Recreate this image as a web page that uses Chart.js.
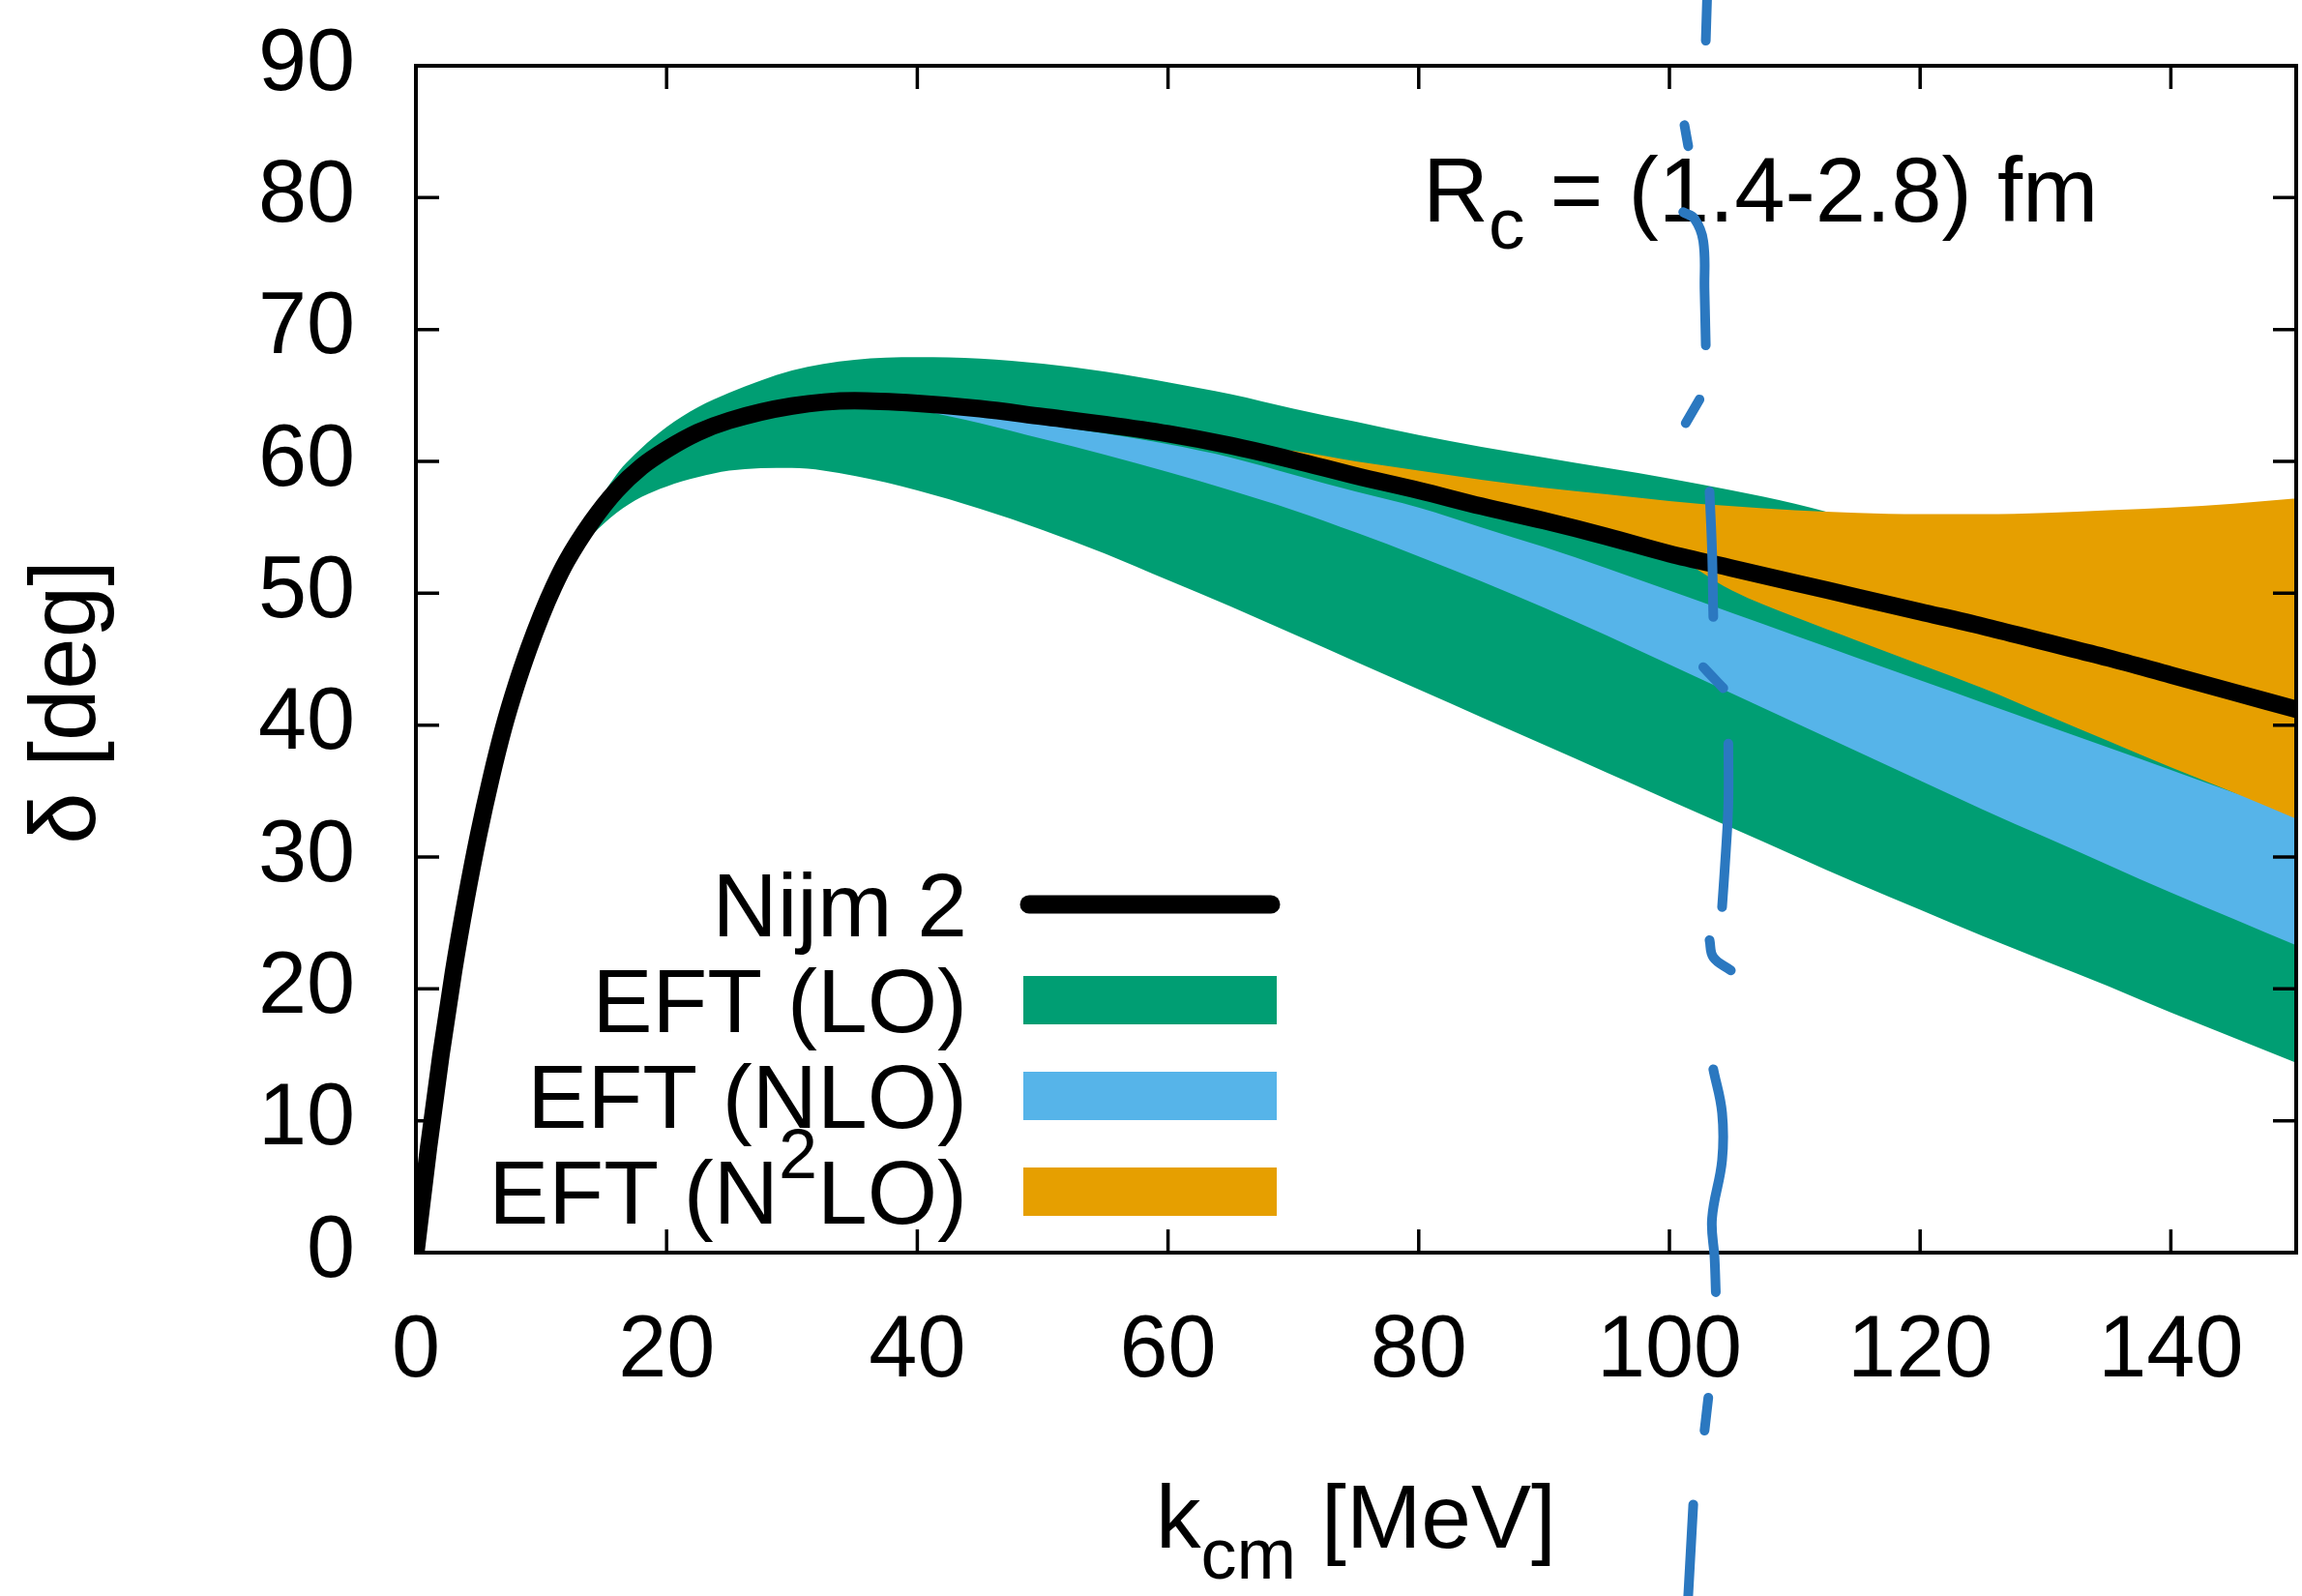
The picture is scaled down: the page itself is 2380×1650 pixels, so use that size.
<!DOCTYPE html>
<html>
<head>
<meta charset="utf-8">
<title>Phase shifts</title>
<script src="https://cdn.jsdelivr.net/npm/chart.js@4/dist/chart.umd.min.js"></script>
<style>
  html, body { margin: 0; padding: 0; background: #fff; }
  canvas { display: block; }
</style>
</head>
<body>
<canvas id="phase" width="2380" height="1650" style="width:2380px;height:1650px"></canvas>
<script>
// momentum grid, k_cm in MeV
const K = [0, 1, 2, 3, 4, 5, 6, 7, 8, 9, 10, 11, 12, 14, 16, 18, 20, 22.5, 25,
  30, 35, 40, 45, 50, 55, 60, 65, 70, 75, 80, 85, 90, 95, 100, 105, 110, 115, 120, 125, 130, 135, 140, 145, 150];

// Nijm 2 phase shift [deg]
const NIJM = [0, 7.9, 15.0, 21.3, 26.8, 31.7, 36.0, 39.8, 43.0, 45.8, 48.3, 50.5, 52.4, 55.4, 57.8, 59.6, 60.9, 62.2, 63.1,
  64.2, 64.6, 64.4, 64.0, 63.4, 62.8, 62.1, 61.2, 60.1, 58.9, 57.8, 56.6, 55.5, 54.3, 53.0, 51.9, 50.8, 49.7, 48.6, 47.5, 46.3, 45.1, 43.8, 42.5, 41.2];

// EFT bands (upper / lower edge) for R_c = 1.4 - 2.8 fm
const LO_HI = [0, 7.9, 15.0, 21.3, 26.8, 31.7, 36.0, 39.8, 43.0, 45.8, 48.3, 50.5, 52.4, 56.0, 59.0, 61.0, 62.6, 64.1, 65.2,
  66.9, 67.7, 67.9, 67.8, 67.4, 66.8, 66.0, 65.1, 64.0, 63.0, 62.0, 61.1, 60.3, 59.5, 58.7, 57.8, 56.8, 55.6, 54.6, 53.6, 52.4, 51.0, 49.6, 48.0, 46.5];
const LO_LO = [0, 7.9, 15.0, 21.3, 26.8, 31.7, 36.0, 39.8, 43.0, 45.8, 48.3, 50.5, 52.4, 54.4, 56.1, 57.3, 58.1, 58.8, 59.3,
  59.5, 58.9, 57.8, 56.4, 54.8, 53.0, 51.0, 49.0, 46.9, 44.8, 42.7, 40.6, 38.5, 36.4, 34.3, 32.2, 30.1, 28.0, 26.0, 24.0, 22.1, 20.2, 18.2, 16.3, 14.4];

const NLO_HI = [0, 7.9, 15.0, 21.3, 26.8, 31.7, 36.0, 39.8, 43.0, 45.8, 48.3, 50.5, 52.4, 55.4, 57.8, 59.6, 60.9, 62.2, 63.1,
  64.2, 64.6, 64.2, 63.6, 62.8, 62.1, 61.3, 60.3, 59.0, 57.7, 56.5, 55.0, 53.5, 51.9, 50.2, 48.5, 46.8, 45.1, 43.4, 41.7, 40.0, 38.3, 36.6, 34.9, 33.3];
const NLO_LO = [0, 7.9, 15.0, 21.3, 26.8, 31.7, 36.0, 39.8, 43.0, 45.8, 48.3, 50.5, 52.4, 55.4, 57.8, 59.6, 60.9, 62.2, 63.1,
  64.2, 64.6, 63.9, 62.9, 61.7, 60.5, 59.2, 57.8, 56.3, 54.6, 52.8, 50.9, 48.9, 46.8, 44.6, 42.4, 40.2, 38.0, 35.8, 33.6, 31.5, 29.4, 27.3, 25.3, 23.3];

const N2LO_HI = [0, 7.9, 15.0, 21.3, 26.8, 31.7, 36.0, 39.8, 43.0, 45.8, 48.3, 50.5, 52.4, 55.4, 57.8, 59.6, 60.9, 62.2, 63.1,
  64.2, 64.6, 64.4, 64.0, 63.4, 62.8, 62.1, 61.2, 60.8, 60.0, 59.3, 58.6, 58.0, 57.5, 57.0, 56.6, 56.3, 56.1, 56.0, 56.0, 56.1, 56.3, 56.5, 56.8, 57.2];
const N2LO_LO = [0, 7.9, 15.0, 21.3, 26.8, 31.7, 36.0, 39.8, 43.0, 45.8, 48.3, 50.5, 52.4, 55.4, 57.8, 59.6, 60.9, 62.2, 63.1,
  64.2, 64.6, 64.4, 64.0, 63.4, 62.8, 62.1, 61.2, 60.1, 58.9, 57.8, 56.6, 55.5, 54.3, 53.0, 50.2, 48.2, 46.4, 44.6, 42.8, 40.8, 38.8, 36.8, 34.9, 32.9];

// hand-drawn pen stroke (k, delta); null in MARK_D breaks the stroke
const MARK_K = [103.0, 102.9, 102.9, 101.2, 101.5, 101.5, 101.1, 102.0, 102.7, 102.8, 102.9, 102.9,
  102.4, 101.3, 101.3, 103.2, 103.4, 103.5, 103.5, 102.7, 103.4, 104.3, 104.3,
  104.7, 104.7, 104.5, 104.2, 104.2, 103.2, 103.5, 104.9, 104.9,
  103.5, 104.2, 104.2, 103.4, 103.6, 103.7, 103.7, 103.1, 102.8, 102.8, 101.9, 101.5];
const MARK_D = [95.0, 91.9, null, 85.5, 83.9, null, 78.9, 78.4, 76.7, 73.0, 68.8, null,
  64.7, 62.9, null, 57.7, 53.2, 48.2, null, 44.4, 43.7, 42.8, null,
  38.6, 34.1, 30.4, 26.2, null, 23.7, 22.4, 21.4, null,
  13.9, 10.6, 7.0, 2.6, -0.4, -3.0, null, -11.0, -13.5, null, -19.1, -26.0];

const X_TICKS = { min: 0, max: 150, step: 20 };
const Y_TICKS = { min: 0, max: 90, step: 10 };

const GREEN = '#009e73';
const SKY = '#56b4e9';
const ORANGE = '#e69f00';
const PEN = '#2b78c0';

const FAMILY = '"Liberation Sans", Arial, Helvetica, sans-serif';

const pts = (xs, ys) => xs.map((x, i) => ({ x: x, y: ys[i] }));

function band(lo, hi, color, order, lowIndex) {
  return [
    { data: pts(K, lo), borderWidth: 0, pointRadius: 0, fill: false, order: order, cubicInterpolationMode: 'monotone' },
    { data: pts(K, hi), borderWidth: 0, pointRadius: 0, backgroundColor: color,
      fill: { target: lowIndex }, order: order, cubicInterpolationMode: 'monotone' }
  ];
}

const MARK_INDEX = 1;

const datasets = [
  { label: 'Nijm 2', data: pts(K, NIJM), borderColor: '#000', borderWidth: 18, pointRadius: 0,
    borderCapStyle: 'round', fill: false, order: 0, cubicInterpolationMode: 'monotone' },
  { data: pts(MARK_K, MARK_D), borderColor: PEN, borderWidth: 10, pointRadius: 0, borderCapStyle: 'round',
    borderJoinStyle: 'round', tension: 0.4, fill: false, clip: false, spanGaps: false, order: -1 },
  ...band(N2LO_LO, N2LO_HI, ORANGE, 1, 2),
  ...band(NLO_LO, NLO_HI, SKY, 2, 4),
  ...band(LO_LO, LO_HI, GREEN, 3, 6)
];

// pieces of text with sub/superscripts: [text, size, baseline shift]
function runsWidth(ctx, runs) {
  let w = 0;
  for (const r of runs) { ctx.font = r[1] + 'px ' + FAMILY; w += ctx.measureText(r[0]).width; }
  return w;
}
function drawRuns(ctx, runs, x, y, align) {
  const w = runsWidth(ctx, runs);
  let cx = align === 'right' ? x - w : align === 'center' ? x - w / 2 : x;
  ctx.textAlign = 'left';
  ctx.textBaseline = 'alphabetic';
  for (const r of runs) {
    ctx.font = r[1] + 'px ' + FAMILY;
    ctx.fillText(r[0], cx, y + (r[2] || 0));
    cx += ctx.measureText(r[0]).width;
  }
}

const LEGEND_ROWS = [
  { runs: [['Nijm 2', 93]], kind: 'line', color: '#000' },
  { runs: [['EFT (LO)', 93]], kind: 'box', color: GREEN },
  { runs: [['EFT (NLO)', 93]], kind: 'box', color: SKY },
  { runs: [['EFT (N', 93], ['2', 72, -47], ['LO)', 93]], kind: 'box', color: ORANGE }
];

const decorations = {
  id: 'decorations',
  beforeDatasetDraw(chart, args) {
    if (args.index !== MARK_INDEX) return;
    const ctx = chart.ctx;
    const a = chart.chartArea;
    const xs = chart.scales.x, ys = chart.scales.y;
    ctx.save();

    // frame with inward ticks on all four sides
    ctx.strokeStyle = '#000';
    ctx.lineWidth = 4;
    ctx.strokeRect(a.left, a.top, a.right - a.left, a.bottom - a.top);
    ctx.lineWidth = 3.5;
    ctx.beginPath();
    for (const t of xs.ticks) {
      const px = xs.getPixelForValue(t.value);
      ctx.moveTo(px, a.bottom); ctx.lineTo(px, a.bottom - 24);
      ctx.moveTo(px, a.top); ctx.lineTo(px, a.top + 24);
    }
    for (const t of ys.ticks) {
      const py = ys.getPixelForValue(t.value);
      ctx.moveTo(a.left, py); ctx.lineTo(a.left + 24, py);
      ctx.moveTo(a.right, py); ctx.lineTo(a.right - 24, py);
    }
    ctx.stroke();

    ctx.fillStyle = '#000';
    // axis titles
    drawRuns(ctx, [['k', 93], ['cm', 74, 32], [' [MeV]', 93]], (a.left + a.right) / 2, 1600, 'center');
    ctx.save();
    ctx.translate(98, 726);
    ctx.rotate(-Math.PI / 2);
    ctx.font = '96px ' + FAMILY;
    ctx.textAlign = 'center';
    ctx.textBaseline = 'alphabetic';
    ctx.fillText('δ [deg]', 0, 0);
    ctx.restore();

    // cutoff range note
    drawRuns(ctx, [['R', 94], ['c', 75, 28], [' = (1.4-2.8) fm', 94]], a.left + 1041, 229, 'left');

    // key
    LEGEND_ROWS.forEach((row, i) => {
      const base = 968 + i * 99;
      ctx.fillStyle = '#000';
      drawRuns(ctx, row.runs, a.left + 570, base, 'right');
      const mid = base - 33;
      if (row.kind === 'line') {
        ctx.strokeStyle = row.color;
        ctx.lineWidth = 19;
        ctx.lineCap = 'round';
        ctx.beginPath();
        ctx.moveTo(a.left + 634, mid); ctx.lineTo(a.left + 884, mid);
        ctx.stroke();
      } else {
        ctx.fillStyle = row.color;
        ctx.fillRect(a.left + 628, mid - 25, 262, 50);
      }
    });
    ctx.restore();
  }
};

const tickFont = { family: FAMILY, size: 90 };

new Chart(document.getElementById('phase'), {
  type: 'line',
  data: { datasets: datasets },
  plugins: [decorations],
  options: {
    responsive: false,
    animation: false,
    devicePixelRatio: 1,
    layout: { padding: { left: 0, right: 6, top: 68, bottom: 0 } },
    plugins: {
      legend: { display: false },
      tooltip: { enabled: false },
      filler: { propagate: false }
    },
    scales: {
      x: {
        type: 'linear',
        min: X_TICKS.min, max: X_TICKS.max,
        grid: { display: false, drawTicks: false },
        border: { display: false },
        ticks: { stepSize: X_TICKS.step, includeBounds: false, autoSkip: false, maxRotation: 0,
          color: '#000', font: tickFont, padding: 49 },
        afterFit(scale) {
          scale.height = 355;
          scale.paddingLeft = 0;
          scale.paddingRight = 0;
        }
      },
      y: {
        type: 'linear',
        min: Y_TICKS.min, max: Y_TICKS.max,
        grid: { display: false, drawTicks: false },
        border: { display: false },
        ticks: { stepSize: Y_TICKS.step, includeBounds: false, color: '#000', font: tickFont, padding: 63 },
        afterFit(scale) {
          scale.width = 430;
          scale.paddingTop = 0;
          scale.paddingBottom = 0;
        }
      }
    }
  }
});
</script>
</body>
</html>
